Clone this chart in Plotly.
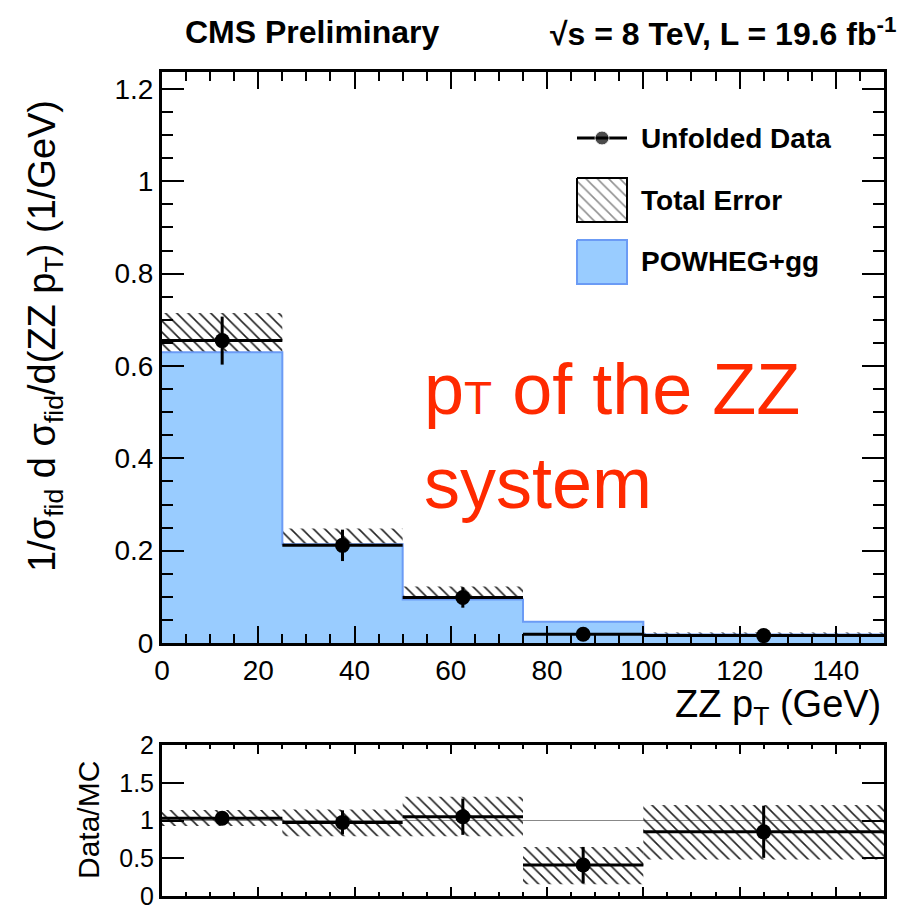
import plotly.graph_objects as go

# ---------------- data ----------------
bin_edges = [0, 25, 50, 75, 100, 150]
bin_centers = [12.5, 37.5, 62.5, 87.5, 125.0]
bin_halfwidths = [12.5, 12.5, 12.5, 12.5, 25.0]
bin_widths = [25, 25, 25, 25, 50]

data_vals = [0.655, 0.2115, 0.0985, 0.019, 0.016]
data_errs = [0.052, 0.034, 0.022, 0.011, 0.006]

band_lo = [0.593, 0.175, 0.074, 0.005, 0.009]
band_hi = [0.715, 0.248, 0.1225, 0.033, 0.023]

mc_vals = [0.630, 0.214, 0.094, 0.046, 0.0185]

ratio_vals = [1.03, 0.975, 1.05, 0.41, 0.85]
ratio_errs = [0.04, 0.16, 0.24, 0.24, 0.345]
ratio_band_lo = [0.926, 0.79, 0.79, 0.155, 0.483]
ratio_band_hi = [1.138, 1.147, 1.315, 0.65, 1.205]

x_ticks = [0, 20, 40, 60, 80, 100, 120, 140]

# ---------------- helpers ----------------
W = H = 906
FONT = "Liberation Sans, Arial, Helvetica, sans-serif"


def px(x):
    return x / W


def py(y):
    return 1 - y / H


BLUE_FILL = "#99ccff"
BLUE_LINE = "#6b9bf5"
RED = "#ff2a00"
HATCH = dict(shape="\\", fgcolor="#222222", bgcolor="rgba(0,0,0,0)",
             size=8, solidity=0.2, fillmode="replace")

fig = go.Figure()

# MC histogram (step, filled)
mc_step_y = mc_vals + [mc_vals[-1]]
fig.add_trace(go.Scatter(
    x=bin_edges, y=mc_step_y, mode="lines", line_shape="hv",
    line=dict(color=BLUE_LINE, width=2), fill="tozeroy", fillcolor=BLUE_FILL,
    xaxis="x", yaxis="y", showlegend=False, hoverinfo="skip"))

# total error band (hatched)
band_h = [h - l for h, l in zip(band_hi, band_lo)]
fig.add_trace(go.Bar(
    x=bin_centers, y=band_h, base=band_lo, width=bin_widths,
    marker=dict(color="rgba(0,0,0,0)", line=dict(width=0), pattern=HATCH),
    xaxis="x", yaxis="y", showlegend=False, hoverinfo="skip"))

# unfolded data
fig.add_trace(go.Scatter(
    x=bin_centers, y=data_vals, mode="markers",
    marker=dict(color="black", size=15),
    error_x=dict(type="data", array=bin_halfwidths, color="black", thickness=3, width=0),
    error_y=dict(type="data", array=data_errs, color="black", thickness=3, width=0),
    xaxis="x", yaxis="y", showlegend=False))

# ratio band
rband_h = [h - l for h, l in zip(ratio_band_hi, ratio_band_lo)]
fig.add_trace(go.Bar(
    x=bin_centers, y=rband_h, base=ratio_band_lo, width=bin_widths,
    marker=dict(color="rgba(0,0,0,0)", line=dict(width=0), pattern=HATCH),
    xaxis="x2", yaxis="y2", showlegend=False, hoverinfo="skip"))

# ratio points
fig.add_trace(go.Scatter(
    x=bin_centers, y=ratio_vals, mode="markers",
    marker=dict(color="black", size=15),
    error_x=dict(type="data", array=bin_halfwidths, color="black", thickness=3, width=0),
    error_y=dict(type="data", array=ratio_errs, color="black", thickness=3, width=0),
    xaxis="x2", yaxis="y2", showlegend=False))

# ---------------- legend glyphs on a hidden pixel-space overlay axis ----------------
LEG = dict(x0=577, x1=627, line_y=138, box1=(178, 222), box2=(240, 284))
fig.add_trace(go.Scatter(
    x=[LEG["x0"], (LEG["x0"] + LEG["x1"]) / 2, LEG["x1"]],
    y=[LEG["line_y"]] * 3, mode="lines+markers",
    line=dict(color="black", width=3),
    marker=dict(color="black", size=[0, 14, 0]),
    xaxis="x3", yaxis="y3", showlegend=False, hoverinfo="skip"))
b0, b1 = LEG["box1"]
fig.add_trace(go.Scatter(
    x=[LEG["x0"], LEG["x1"], LEG["x1"], LEG["x0"], LEG["x0"]],
    y=[b0, b0, b1, b1, b0], mode="lines", fill="toself",
    fillcolor="rgba(0,0,0,0)",
    fillpattern=dict(shape="\\", fgcolor="#222222", bgcolor="white", size=8, solidity=0.2),
    line=dict(color="black", width=2),
    xaxis="x3", yaxis="y3", showlegend=False, hoverinfo="skip"))
c0, c1 = LEG["box2"]
fig.add_trace(go.Scatter(
    x=[LEG["x0"], LEG["x1"], LEG["x1"], LEG["x0"], LEG["x0"]],
    y=[c0, c0, c1, c1, c0], mode="lines", fill="toself",
    fillcolor=BLUE_FILL, line=dict(color=BLUE_LINE, width=2),
    xaxis="x3", yaxis="y3", showlegend=False, hoverinfo="skip"))

# ---------------- axes ----------------
xdom = [px(162), px(884)]
axis_common = dict(showline=True, linewidth=3, linecolor="black", mirror="ticks",
                   showgrid=False, zeroline=False, ticks="inside", tickcolor="black",
                   tickwidth=2, automargin=False, ticklabeloverflow="allow")

fig.update_layout(
    width=W, height=H,
    margin=dict(l=0, r=0, t=0, b=0),
    paper_bgcolor="white", plot_bgcolor="rgba(0,0,0,0)",
    barmode="overlay",
    font=dict(family=FONT, color="black"),
    xaxis=dict(domain=xdom, range=[0, 150], anchor="y",
               tickvals=x_ticks, ticklen=17,
               minor=dict(dtick=5, tick0=0, ticks="inside", ticklen=9, tickwidth=1.5, tickcolor="black"),
               tickfont=dict(size=28, family=FONT), **axis_common),
    yaxis=dict(domain=[py(643), py(72)], range=[0, 1.2368], anchor="x",
               tick0=0, dtick=0.2, ticklen=22,
               minor=dict(dtick=0.05, tick0=0, ticks="inside", ticklen=11, tickwidth=1.5, tickcolor="black"),
               tickfont=dict(size=28, family=FONT), **axis_common),
    xaxis2=dict(domain=xdom, range=[0, 150], anchor="y2",
                tickvals=x_ticks, ticklen=9, showticklabels=False,
                minor=dict(dtick=5, tick0=0, ticks="inside", ticklen=4, tickwidth=1.5, tickcolor="black"),
                **axis_common),
    yaxis2=dict(domain=[py(896), py(745)], range=[0, 2], anchor="x2",
                tick0=0, dtick=0.5, ticklen=22,
                tickfont=dict(size=25, family=FONT), **axis_common),
    xaxis3=dict(domain=[0, 1], range=[0, W], anchor="y3", visible=False, fixedrange=True),
    yaxis3=dict(domain=[0, 1], range=[H, 0], anchor="x3", visible=False, fixedrange=True),
)

# reference line at ratio = 1
fig.add_shape(type="line", xref="x2 domain", yref="y2", x0=0, x1=1, y0=1, y1=1,
              line=dict(color="#888888", width=1), layer="below")

# ---------------- texts ----------------
ann = []
ann.append(dict(text="<b>CMS Preliminary</b>", x=px(312), y=py(32), xref="paper", yref="paper",
                xanchor="center", yanchor="middle", showarrow=False, font=dict(size=32, family=FONT)))
ann.append(dict(text="<b>√s = 8 TeV, L = 19.6 fb<sup>-1</sup></b>", x=px(898), y=py(32),
                xref="paper", yref="paper", xanchor="right", yanchor="middle", showarrow=False,
                font=dict(size=32, family=FONT)))
ann.append(dict(text="1/σ<sub>fid</sub> d σ<sub>fid</sub>/d(ZZ p<sub>T</sub>) (1/GeV)",
                x=px(45), y=py(336), xref="paper", yref="paper", textangle=-90,
                xanchor="center", yanchor="middle", showarrow=False, font=dict(size=38, family=FONT)))
ann.append(dict(text="ZZ p<sub>T</sub> (GeV)", x=px(883), y=py(707), xref="paper", yref="paper",
                xanchor="right", yanchor="middle", showarrow=False, font=dict(size=38, family=FONT)))
ann.append(dict(text="Data/MC", x=px(88), y=py(820), xref="paper", yref="paper", textangle=-90,
                xanchor="center", yanchor="middle", showarrow=False, font=dict(size=30, family=FONT)))
ann.append(dict(text='p<span style="font-size:46px">T</span> of the ZZ<br>system',
                x=px(422), y=py(436), xref="paper", yref="paper", xanchor="left", yanchor="middle",
                align="left", showarrow=False, font=dict(size=72, family=FONT, color=RED)))
for label, yy in [("Unfolded Data", 138), ("Total Error", 200), ("POWHEG+gg", 262)]:
    ann.append(dict(text=f"<b>{label}</b>", x=px(639), y=py(yy), xref="paper", yref="paper",
                    xanchor="left", yanchor="middle", showarrow=False, font=dict(size=28, family=FONT)))
fig.update_layout(annotations=ann)

fig.write_html("out.html")
